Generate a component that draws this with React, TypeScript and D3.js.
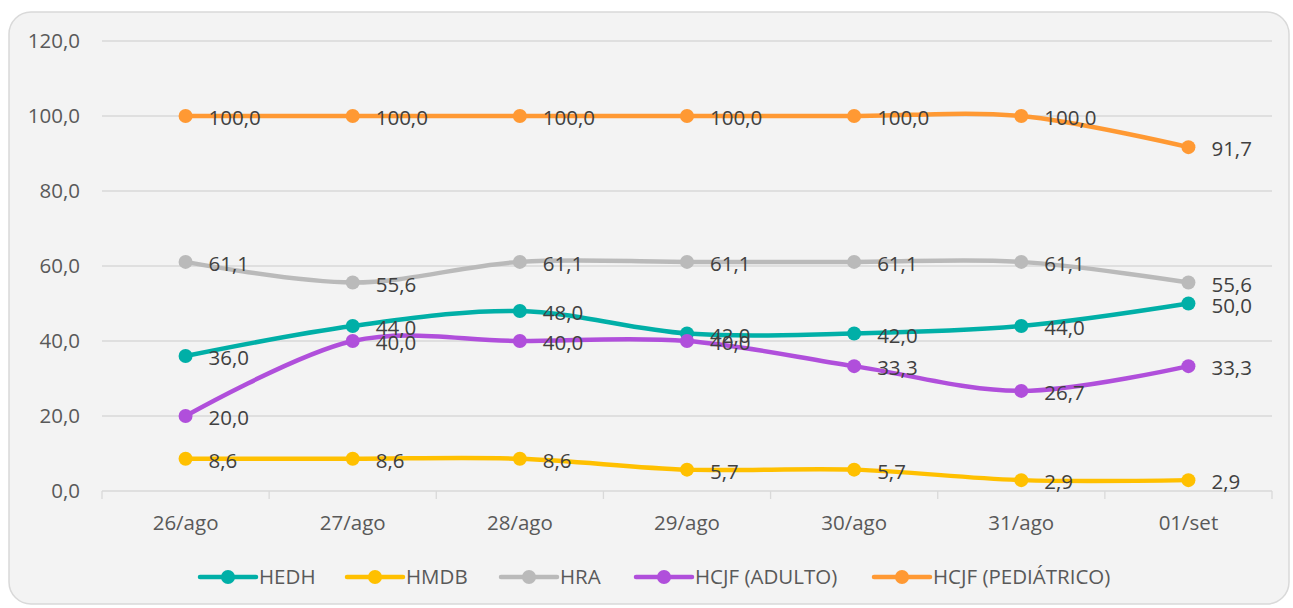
import * as d3 from "d3";

const categories = ["26/ago", "27/ago", "28/ago", "29/ago", "30/ago", "31/ago", "01/set"];
const seriesNames = ["HEDH", "HMDB", "HRA", "HCJF (ADULTO)", "HCJF (PEDIÁTRICO)"];
const hedh = [36.0, 44.0, 48.0, 42.0, 42.0, 44.0, 50.0];
const hmdb = [8.6, 8.6, 8.6, 5.7, 5.7, 2.9, 2.9];
const hra = [61.1, 55.6, 61.1, 61.1, 61.1, 61.1, 55.6];
const hcjfAdulto = [20.0, 40.0, 40.0, 40.0, 33.3, 26.7, 33.3];
const hcjfPed = [100.0, 100.0, 100.0, 100.0, 100.0, 100.0, 91.7];
const yTicks = [0, 20, 40, 60, 80, 100, 120];

const colors = ["#00AFA7", "#FFC000", "#BABABA", "#B04FDB", "#FF9933"];
const allValues = [hedh, hmdb, hra, hcjfAdulto, hcjfPed];

const W = 1293;
const H = 608;
const font = "Open Sans, Lato, sans-serif";
const fs = 20.5;
const fmt = (v: number) => v.toFixed(1).replace(".", ",");

export default function App() {
  const x = d3.scaleBand<string>().domain(categories).range([102, 1272]);
  const y = d3.scaleLinear().domain([0, 120]).range([491, 41]);
  const cx = (c: string) => (x(c) ?? 0) + x.bandwidth() / 2;

  const line = d3
    .line<number>()
    .x((_, i) => cx(categories[i]))
    .y((d) => y(d))
    .curve(d3.curveCardinal.tension(0));

  // legend layout: line sample, then label
  const legendX = [200, 347, 501, 636, 874];

  return (
    <svg
      width={W}
      height={H}
      style={{ position: "absolute", left: 0, top: 0, background: "#fff" }}
      fontFamily={font}
    >
      <rect x={9} y={12} width={1280} height={592} rx={22} fill="#f3f3f3" stroke="#d9d9d9" strokeWidth={1.5} />

      {/* grid */}
      {yTicks.map((t) => (
        <g key={t}>
          <line x1={102} x2={1272} y1={y(t)} y2={y(t)} stroke="#d9d9d9" strokeWidth={1.3} />
          <text x={80} y={y(t)} dy="0.35em" textAnchor="end" fontSize={fs} fill="#595959">
            {fmt(t)}
          </text>
        </g>
      ))}
      {/* category ticks */}
      {categories.map((c) => (
        <line key={c} x1={x(c)} x2={x(c)} y1={491} y2={499} stroke="#d9d9d9" strokeWidth={1.3} />
      ))}
      <line x1={1272} x2={1272} y1={491} y2={499} stroke="#d9d9d9" strokeWidth={1.3} />
      {categories.map((c) => (
        <text key={c} x={cx(c)} y={523} dy="0.35em" textAnchor="middle" fontSize={fs} fill="#595959">
          {c}
        </text>
      ))}

      {/* lines */}
      {allValues.map((vals, s) => (
        <g key={s}>
          <path d={line(vals) ?? undefined} fill="none" stroke={colors[s]} strokeWidth={4.5} strokeLinecap="round" />
          {vals.map((v, i) => (
            <circle key={i} cx={cx(categories[i])} cy={y(v)} r={7} fill={colors[s]} />
          ))}
        </g>
      ))}

      {/* data labels */}
      {allValues.map((vals, s) =>
        vals.map((v, i) => (
          <text
            key={`${s}-${i}`}
            x={cx(categories[i]) + 23}
            y={y(v) + 2}
            dy="0.35em"
            fontSize={fs}
            fill="#404040"
          >
            {fmt(v)}
          </text>
        ))
      )}

      {/* legend */}
      {seriesNames.map((n, s) => (
        <g key={n} transform={`translate(${legendX[s]},577)`}>
          <line x1={0} x2={56} y1={0} y2={0} stroke={colors[s]} strokeWidth={4.5} strokeLinecap="round" />
          <circle cx={28} cy={0} r={7} fill={colors[s]} />
          <text x={59} y={0} dy="0.35em" fontSize={fs} fill="#595959">
            {n}
          </text>
        </g>
      ))}
    </svg>
  );
}
